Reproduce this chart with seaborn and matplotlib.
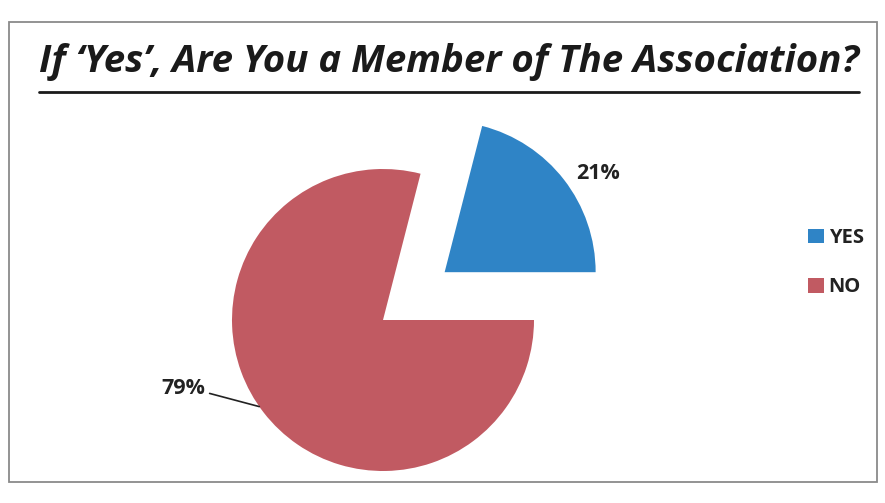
import seaborn as sns
import matplotlib.pyplot as plt
import matplotlib.patches as mpatches
import numpy as np

# chart data
categories = ['YES', 'NO']
shares = [21, 79]
colours = ['#2f84c6', '#c15a62']
title_text = "If \u2018Yes\u2019, Are You a Member of The Association?"

sns.set_style('white')
plt.rcParams['font.family'] = ['Open Sans', 'DejaVu Sans']

fig = plt.figure(figsize=(8.85, 5.03), dpi=100)
ax = fig.add_axes([0, 0, 1, 1])

# pie drawn in pixel-like data units so it sits where the scan has it
r = 151
cx, cy = 383, 503 - 320
wedges, _ = ax.pie(shares, colors=colours, startangle=0, counterclock=True,
                   radius=r, center=(cx, cy), explode=[78, 0],
                   wedgeprops=dict(linewidth=0))
ax.set_xlim(0, 885)
ax.set_ylim(0, 503)
ax.set_aspect('equal')
ax.axis('off')

# percentage labels
ax.text(598, 503 - 173, f'{shares[0]}%', fontsize=15.5, fontweight='bold',
        color='#222222', ha='center', va='center')
ang = np.deg2rad(215)
ax.annotate(f'{shares[1]}%', xy=(cx + r * np.cos(ang), cy + r * np.sin(ang)),
            xytext=(205, 503 - 388), textcoords='data', fontsize=15.5,
            fontweight='bold', color='#222222', ha='right', va='center',
            arrowprops=dict(arrowstyle='-', color='#222222', lw=1.2,
                            shrinkA=1, shrinkB=0, relpos=(1, 0.3)))

# legend
leg = ax.legend(wedges, categories, loc='center left',
                bbox_to_anchor=(0.893, 0.478), bbox_transform=fig.transFigure,
                frameon=False, handlelength=0.75, handleheight=0.75,
                handletextpad=0.25, labelspacing=1.45,
                prop=dict(weight='bold', size=14.5))
for t in leg.get_texts():
    t.set_color('#222222')

# chart border
ax.add_patch(mpatches.Rectangle((9, 503 - 482), 868, 460, fill=False,
                                edgecolor='#8a8a8a', lw=1.3))

# title, bold italic and underlined
title = ax.text(449, 503 - 72, title_text, fontsize=24, fontweight='bold',
                fontstyle='italic', color='#1a1a1a', ha='center', va='baseline')
fig.canvas.draw()
bb = title.get_window_extent()
title.set_fontsize(24 * 822 / bb.width)
fig.canvas.draw()
bb = title.get_window_extent()
ax.plot([bb.x0, bb.x1], [503 - 92, 503 - 92], color='#1a1a1a', lw=2)

fig.savefig('out.png', dpi=100)
